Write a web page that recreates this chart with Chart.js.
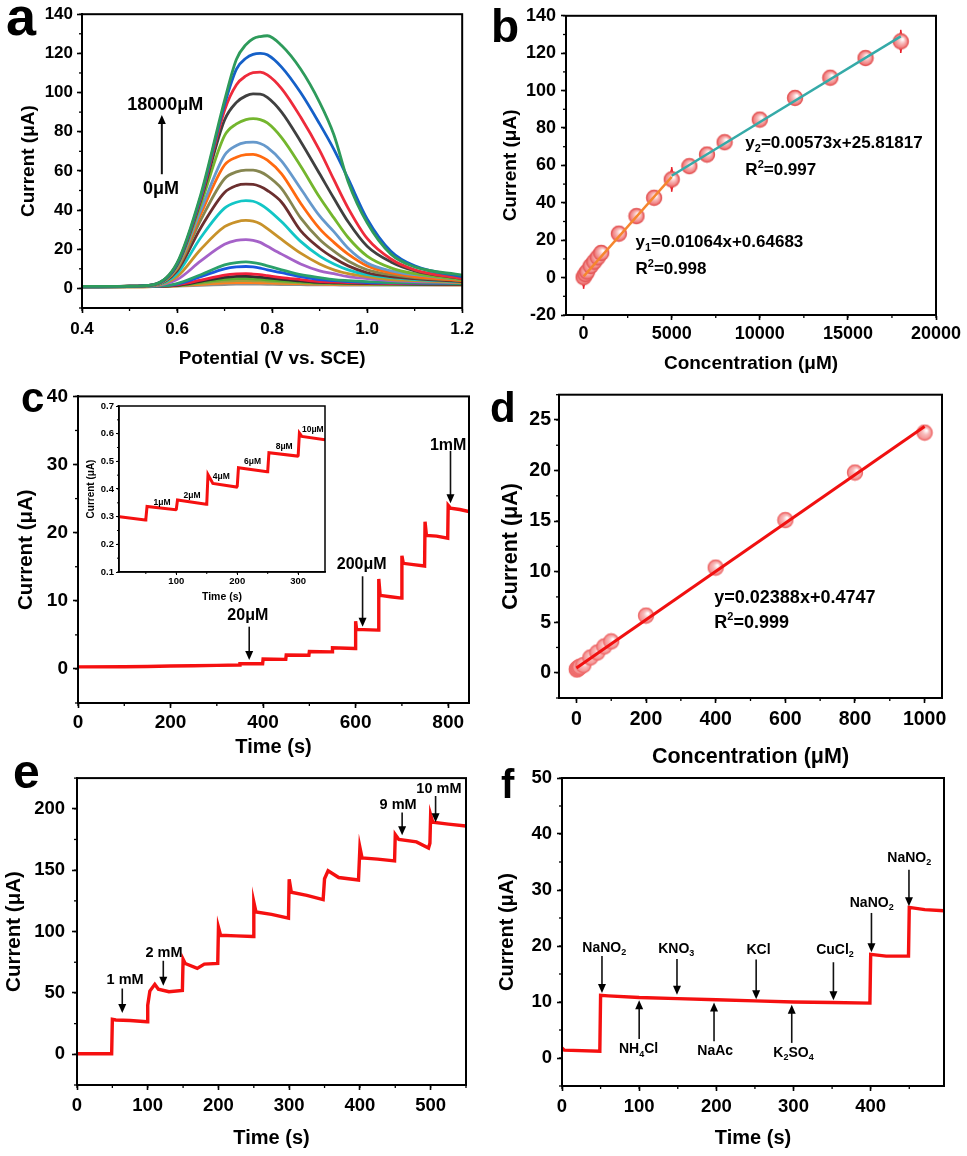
<!DOCTYPE html>
<html>
<head>
<meta charset="utf-8">
<script src="https://cdn.jsdelivr.net/npm/chart.js@4.4.1/dist/chart.umd.min.js"></script>
<style>
  body { margin: 0; background: #fff; width: 967px; height: 1156px; position: relative; overflow: hidden; }
  canvas { position: absolute; }
</style>
</head>
<body>
<canvas id="pa" width="480" height="380" style="left:0;top:0"></canvas>
<canvas id="pb" width="487" height="380" style="left:480px;top:0"></canvas>
<canvas id="pc" width="480" height="390" style="left:0;top:380px"></canvas>
<canvas id="pinset" width="275" height="210" style="left:60px;top:395px"></canvas>
<canvas id="pd" width="487" height="395" style="left:480px;top:380px"></canvas>
<canvas id="pe" width="480" height="396" style="left:0;top:760px"></canvas>
<canvas id="pf" width="487" height="396" style="left:480px;top:760px"></canvas>
<script>
// ---- data ----
// a: DPV curves, potential grid (V) and currents (uA), 0 uM ... 18000 uM
var aPotential = [0.40, 0.50, 0.55, 0.60, 0.65, 0.70, 0.725, 0.745, 0.76, 0.775, 0.79, 0.82, 0.86, 0.90, 0.93, 0.96, 1.00, 1.05, 1.10, 1.20];
var aCurves = [
  [1.0, 1.1, 1.9, 13, 48, 96, 117, 124.5, 127.5, 128.6, 129, 124, 112, 95, 78.5, 54.5, 33.5, 17.5, 11, 6.8],
  [1.0, 1.1, 1.9, 12.5, 47, 94, 112, 117.5, 119.5, 120, 119.3, 113, 100, 84, 71, 56, 35.5, 19, 11.5, 6],
  [1.0, 1.1, 1.9, 12.5, 46, 91, 104, 108.5, 110.2, 110.4, 109, 102, 87.5, 70.5, 55.5, 41, 25.5, 15, 9.5, 5],
  [1.0, 1.1, 1.8, 12, 45, 86, 95, 98.3, 99.3, 99.2, 97.5, 90, 75, 58.5, 46, 34, 21.5, 13.5, 9, 5],
  [1.0, 1.1, 1.8, 11.5, 43, 78, 84, 86.2, 86.7, 86.2, 84.5, 77, 62.5, 46.5, 36, 26, 16.5, 10.5, 7.5, 4.5],
  [1.0, 1.1, 1.7, 11, 40, 68, 73, 74.5, 74.7, 74, 72, 65, 51, 37, 29, 20.5, 13, 9, 7, 4.5],
  [1.0, 1.1, 1.7, 10.5, 38, 63, 67, 68.3, 68.4, 67.5, 65.5, 58.5, 43.5, 30.5, 23.5, 17.5, 11.5, 8, 6, 4],
  [1.0, 1.0, 1.6, 10, 35, 56, 59.5, 60.4, 60.4, 59.5, 57.5, 51, 36, 25, 19, 14, 9.5, 7, 5.5, 4],
  [1.0, 1.0, 1.6, 9, 31, 49, 52.5, 53.2, 53.1, 52, 50, 44, 29.5, 20.5, 15.5, 11.5, 8, 6, 5, 3.5],
  [0.9, 1.0, 1.5, 7.5, 26, 41, 44, 44.8, 44.5, 43, 40.5, 34, 24, 16.5, 12.5, 9.5, 7, 5.5, 4.5, 3.5],
  [0.9, 1.0, 1.4, 6, 20, 31.5, 34, 34.7, 34.3, 33, 30.5, 25, 18, 12.5, 9.5, 7.5, 6, 4.5, 4, 3],
  [0.9, 1.0, 1.3, 4.5, 14, 22.5, 24.5, 24.9, 24.5, 23.5, 21.5, 17.5, 12.5, 9, 7.5, 6, 5, 4, 3.5, 3],
  [0.8, 0.9, 1.1, 2.5, 7, 12, 13.2, 13.5, 13.2, 12.5, 11.5, 9.5, 7, 5.5, 4.5, 4, 3.5, 3, 3, 2.5],
  [0.8, 0.9, 1.1, 2.2, 6, 10, 11, 11.2, 11, 10.4, 9.5, 8, 6, 4.5, 4, 3.5, 3, 2.8, 2.7, 2.5],
  [0.8, 0.9, 1.0, 1.8, 4.2, 6.8, 7.4, 7.5, 7.3, 7, 6.5, 5.5, 4.5, 3.5, 3.2, 3, 2.7, 2.5, 2.4, 2.3],
  [0.8, 0.9, 1.0, 1.6, 3.6, 5.6, 6.1, 6.2, 6, 5.8, 5.4, 4.6, 3.8, 3.1, 2.9, 2.7, 2.5, 2.3, 2.2, 2.1],
  [0.8, 0.9, 1.0, 1.5, 3.1, 4.6, 5, 5, 4.9, 4.7, 4.4, 3.9, 3.3, 2.8, 2.6, 2.5, 2.3, 2.2, 2.1, 2.0],
  [0.8, 0.8, 0.9, 1.4, 2.6, 3.7, 4, 4, 3.9, 3.8, 3.6, 3.2, 2.8, 2.5, 2.4, 2.3, 2.2, 2.1, 2.0, 1.9],
  [0.8, 0.8, 0.9, 1.3, 2.1, 2.8, 3, 3, 2.95, 2.9, 2.8, 2.6, 2.4, 2.2, 2.1, 2.1, 2.0, 1.9, 1.9, 1.8],
  [0.8, 0.8, 0.9, 1.2, 1.6, 2.0, 2.2, 2.2, 2.2, 2.15, 2.1, 2.0, 1.9, 1.8, 1.8, 1.7, 1.7, 1.7, 1.7, 1.7]
];
var aColors = ['#2e9b5b', '#1560c8', '#ee2b3b', '#404040', '#74b62e', '#6699cc', '#ff6a10', '#868650', '#6b2f2f', '#12c6c6',
               '#c8922a', '#a562c8', '#2aa06a', '#1a56e0', '#f0203a', '#303030', '#58b030', '#a0a040', '#ff8020', '#909090'];
var aTicksX = [0.4, 0.6, 0.8, 1.0, 1.2];
var aTicksY = [0, 20, 40, 60, 80, 100, 120, 140];

// b: calibration, peak current vs concentration
var bConc = [0, 100, 200, 400, 600, 800, 1000, 2000, 3000, 4000, 5000, 6000, 7000, 8000, 10000, 12000, 14000, 16000, 18000];
var bCurrent = [0.2, 1.8, 3.2, 6.2, 8.5, 10.8, 13.2, 23.5, 32.9, 42.7, 52.5, 59.6, 65.8, 72.4, 84.5, 96.1, 106.9, 117.4, 126.3];
var bError = [6.2, 0.8, 0.8, 0.8, 0.8, 0.8, 0.8, 0.8, 0.8, 0.8, 6.6, 0.8, 0.8, 0.8, 0.8, 0.8, 0.8, 0.8, 6.2];
var bFit1X = [0, 5000], bFit1Y = [0.65, 53.85];
var bFit2X = [5000, 18000], bFit2Y = [54.5, 129];
var bTicksX = [0, 5000, 10000, 15000, 20000];
var bTicksY = [-20, 0, 20, 40, 60, 80, 100, 120, 140];

// c: amperometric i-t, and the inset
var cTime = [0, 100, 150, 200, 250, 300, 349, 350, 399, 400, 449, 450, 499, 500, 549, 550, 599, 600, 602, 649, 650, 653, 675, 699, 700, 703, 725, 749, 750, 753, 775, 799, 800, 805, 825, 845];
var cCurrent = [0.30, 0.33, 0.35, 0.42, 0.46, 0.52, 0.58, 0.78, 0.75, 1.45, 1.40, 2.05, 2.0, 2.55, 2.5, 3.1, 3.0, 7.0, 5.8, 5.7, 13.2, 10.8, 10.6, 10.4, 16.6, 15.5, 15.3, 15.1, 21.6, 19.6, 19.5, 19.2, 24.0, 23.6, 23.4, 23.1];
var cTicksX = [0, 200, 400, 600, 800];
var cTicksY = [0, 10, 20, 30, 40];
var insetTime = [7, 49, 50, 52, 99, 100, 102, 149, 150, 152, 160, 199, 200, 202, 249, 250, 252, 299, 300, 302, 306, 344];
var insetCurrent = [0.300, 0.288, 0.290, 0.337, 0.325, 0.327, 0.360, 0.345, 0.347, 0.452, 0.420, 0.407, 0.410, 0.477, 0.462, 0.464, 0.531, 0.519, 0.521, 0.602, 0.590, 0.578];
var insetTicksX = [100, 200, 300];
var insetTicksY = [0.1, 0.2, 0.3, 0.4, 0.5, 0.6, 0.7];

// d: calibration of c
var dConc = [1, 2, 4, 6, 8, 10, 20, 40, 60, 80, 100, 200, 400, 600, 800, 1000];
var dCurrent = [0.33, 0.35, 0.42, 0.47, 0.52, 0.59, 0.75, 1.5, 2.0, 2.6, 3.1, 5.65, 10.4, 15.1, 19.8, 23.75];
var dFitX = [0, 1000], dFitY = [0.47, 24.35];
var dTicksX = [0, 200, 400, 600, 800, 1000];
var dTicksY = [0, 5, 10, 15, 20, 25];

// e: high concentration i-t
var eTime = [0, 49, 50, 55, 75, 99, 100, 103, 110, 115, 130, 149, 150, 153, 170, 180, 199, 200, 203, 225, 249, 250, 253, 275, 299, 300, 303, 325, 348, 350, 355, 370, 398, 400, 403, 425, 449, 450, 455, 480, 497, 499, 500, 503, 525, 550];
var eCurrent = [0.5, 0.5, 28.5, 28, 27.5, 26.5, 40, 51.5, 57, 53, 51, 52, 77.5, 74, 70, 73.5, 74, 103.5, 97, 96.5, 96, 124, 116, 114, 111, 142.5, 132, 129.5, 126, 143, 149.5, 144, 142, 168.5, 160, 159, 157.5, 179, 175, 173, 168, 172, 195, 189, 187.5, 186];
var eTicksX = [0, 100, 200, 300, 400, 500];
var eTicksY = [0, 50, 100, 150, 200];

// f: interference test
var fTime = [0, 3, 49, 50, 60, 100, 150, 200, 250, 300, 350, 399, 400, 420, 449, 450, 470, 495];
var fCurrent = [1.8, 1.4, 1.2, 11.2, 11.1, 10.8, 10.6, 10.4, 10.2, 10.0, 9.9, 9.8, 18.5, 18.2, 18.2, 26.9, 26.5, 26.3];
var fTicksX = [0, 100, 200, 300, 400];
var fTicksY = [0, 10, 20, 30, 40, 50];

// ---- helpers ----
var FONT = "'Liberation Sans', Arial, Helvetica, sans-serif";
function pts(xs, ys) { return xs.map(function (x, i) { return {x: x, y: ys[i]}; }); }

function richText(ctx, str, x, y, size, align) {
  var segs = [];
  for (var i = 0; i < str.length; i++) {
    var c = str[i];
    if ((c === '_' || c === '^') && i + 1 < str.length) { segs.push({t: str[i + 1], k: c}); i++; }
    else segs.push({t: c, k: ''});
  }
  var big = 'bold ' + size + 'px ' + FONT, small = 'bold ' + Math.round(size * 0.62) + 'px ' + FONT;
  var w = 0;
  segs.forEach(function (s) { ctx.font = s.k ? small : big; s.w = ctx.measureText(s.t).width; w += s.w; });
  var cx = align === 'left' ? x : x - w / 2;
  ctx.textAlign = 'left'; ctx.textBaseline = 'middle';
  segs.forEach(function (s) {
    ctx.font = s.k ? small : big;
    var dy = s.k === '_' ? size * 0.32 : (s.k === '^' ? -size * 0.33 : 0);
    ctx.fillText(s.t, cx, y + dy);
    cx += s.w;
  });
}

var framePlugin = {
  id: 'frame',
  afterDraw: function (chart, args, o) {
    var ctx = chart.ctx, a = chart.chartArea, x = chart.scales.x, y = chart.scales.y;
    ctx.save();
    ctx.strokeStyle = '#000';
    ctx.lineWidth = o.lw || 2;
    ctx.strokeRect(a.left, a.top, a.right - a.left, a.bottom - a.top);
    ctx.lineWidth = o.mw || 1.3;
    var ml = o.ml || 3, i, p;
    if (o.minorX) {
      for (i = Math.ceil(x.min / o.minorX); i * o.minorX <= x.max + 1e-9; i++) {
        p = x.getPixelForValue(i * o.minorX);
        ctx.beginPath(); ctx.moveTo(p, a.bottom); ctx.lineTo(p, a.bottom + ml); ctx.stroke();
      }
    }
    if (o.minorY) {
      for (i = Math.ceil(y.min / o.minorY); i * o.minorY <= y.max + 1e-9; i++) {
        p = y.getPixelForValue(i * o.minorY);
        ctx.beginPath(); ctx.moveTo(a.left, p); ctx.lineTo(a.left - ml, p); ctx.stroke();
      }
    }
    if (o.letter) {
      ctx.fillStyle = '#000';
      ctx.font = 'bold ' + o.letter.size + 'px ' + FONT;
      ctx.textAlign = 'left'; ctx.textBaseline = 'alphabetic';
      ctx.fillText(o.letter.t, o.letter.x, o.letter.y);
    }
    ctx.restore();
  }
};

var notesPlugin = {
  id: 'notes',
  afterDatasetsDraw: function (chart, args, o) {
    var ctx = chart.ctx, x = chart.scales.x, y = chart.scales.y;
    ctx.save();
    ctx.fillStyle = '#000'; ctx.strokeStyle = '#111';
    (o.items || []).forEach(function (n) {
      if (n.t === 'text') {
        richText(ctx, n.s, x.getPixelForValue(n.x), y.getPixelForValue(n.y), n.size, n.align);
      } else {
        var px = x.getPixelForValue(n.x), p1 = y.getPixelForValue(n.y1), p2 = y.getPixelForValue(n.y2);
        var dir = p2 > p1 ? 1 : -1, hl = n.head || 9, hw = n.hw || 4;
        ctx.lineWidth = n.lw || 1.6;
        ctx.beginPath(); ctx.moveTo(px, p1); ctx.lineTo(px, p2 - dir * hl * 0.6); ctx.stroke();
        ctx.beginPath(); ctx.moveTo(px, p2); ctx.lineTo(px - hw, p2 - dir * hl); ctx.lineTo(px + hw, p2 - dir * hl); ctx.closePath(); ctx.fill();
      }
    });
    ctx.restore();
  }
};

var errPlugin = {
  id: 'errbars',
  beforeDatasetsDraw: function (chart, args, o) {
    if (!o.xs) return;
    var ctx = chart.ctx, x = chart.scales.x, y = chart.scales.y;
    ctx.save();
    ctx.strokeStyle = '#e8202a'; ctx.fillStyle = '#e8202a'; ctx.lineWidth = 1.6;
    o.xs.forEach(function (v, i) {
      var px = x.getPixelForValue(v), top = y.getPixelForValue(o.ys[i] + o.es[i]), bot = y.getPixelForValue(o.ys[i] - o.es[i]);
      ctx.beginPath(); ctx.moveTo(px, top); ctx.lineTo(px, bot); ctx.stroke();
      ctx.beginPath(); ctx.moveTo(px, top); ctx.lineTo(px - 2.5, top + 7); ctx.lineTo(px + 2.5, top + 7); ctx.closePath(); ctx.fill();
      ctx.beginPath(); ctx.moveTo(px, bot); ctx.lineTo(px - 2.5, bot - 7); ctx.lineTo(px + 2.5, bot - 7); ctx.closePath(); ctx.fill();
    });
    ctx.restore();
  }
};

function sphere(r, fill, edge) {
  var c = document.createElement('canvas'), s = 2 * r + 3;
  c.width = s; c.height = s;
  var g = c.getContext('2d'), m = s / 2;
  var grd = g.createRadialGradient(m + r * 0.25, m - r * 0.3, r * 0.08, m, m, r);
  grd.addColorStop(0, '#ffffff');
  grd.addColorStop(0.4, '#f8bcbc');
  grd.addColorStop(1, fill);
  g.fillStyle = grd;
  g.beginPath(); g.arc(m, m, r, 0, Math.PI * 2); g.fill();
  g.strokeStyle = edge; g.lineWidth = 1.4; g.stroke();
  return c;
}

function axis(o) {
  return {
    type: 'linear', min: o.min, max: o.max, bounds: 'data',
    afterFit: function (s) { if (s.isHorizontal()) s.height = o.size; else s.width = o.size; },
    afterBuildTicks: function (s) { s.ticks = o.ticks.map(function (v) { return {value: v}; }); },
    ticks: {
      autoSkip: false, maxRotation: 0, color: '#000', padding: o.tpad,
      font: {family: FONT, size: o.tfont, weight: 'bold'},
      callback: o.fmt || function (v) { return String(v); }
    },
    grid: {drawOnChartArea: false, drawTicks: true, tickLength: o.tlen || 5, tickWidth: o.tw || 1.6, tickColor: '#000'},
    border: {display: true, color: '#000', width: o.bw || 2},
    title: {display: true, text: o.title, color: '#000', font: {family: FONT, size: o.font, weight: 'bold'}, padding: o.titlePad}
  };
}

function panel(id, cfg) {
  return new Chart(document.getElementById(id), {
    type: 'scatter',
    data: {datasets: cfg.datasets},
    options: {
      responsive: false, animation: false, events: [],
      layout: {padding: {left: 0, top: cfg.top, right: cfg.right, bottom: 0}},
      plugins: {
        legend: {display: false}, tooltip: {enabled: false},
        frame: cfg.frame, notes: {items: cfg.notes || []}, errbars: cfg.err || {}
      },
      scales: {x: axis(cfg.x), y: axis(cfg.y)}
    },
    plugins: [framePlugin, notesPlugin, errPlugin]
  });
}

function line(xs, ys, color, width, extra) {
  return Object.assign({data: pts(xs, ys), showLine: true, borderColor: color, borderWidth: width,
    pointRadius: 0, fill: false, tension: 0}, extra || {});
}

var curTitle = 'Current (\u03bcA)';

// ---- a ----
panel('pa', {
  top: 14, right: 16,
  datasets: aCurves.map(function (ys, i) {
    return line(aPotential, ys, aColors[i], 2.8, {cubicInterpolationMode: 'monotone'});
  }),
  x: {min: 0.4, max: 1.2, ticks: aTicksX, size: 72, tfont: 17, tpad: 6, font: 19, title: 'Potential (V vs. SCE)',
      titlePad: {top: 0, bottom: 10}, fmt: function (v) { return v.toFixed(1); }},
  y: {min: -10, max: 140, ticks: aTicksY, size: 82, tfont: 17, tpad: 4, font: 19, title: curTitle, titlePad: {top: 17, bottom: 0}},
  frame: {minorX: 0.1, minorY: 10, letter: {t: 'a', x: 6, y: 35, size: 54}},
  notes: [
    {t: 'text', x: 0.575, y: 93.8, s: '18000\u03bcM', size: 18},
    {t: 'arrow', x: 0.568, y1: 58.3, y2: 88.5, lw: 2},
    {t: 'text', x: 0.566, y: 50.7, s: '0\u03bcM', size: 18}
  ]
});

// ---- b ----
var bSphere = sphere(7.5, '#ee6b6b', '#e45858');
panel('pb', {
  top: 15, right: 31,
  datasets: [
    line(bFit1X, bFit1Y, '#f5862e', 2.4),
    line(bFit2X, bFit2Y, '#35aaa8', 2.4),
    {data: pts(bConc, bCurrent), pointStyle: bSphere, pointRadius: 8, showLine: false}
  ],
  x: {min: -1000, max: 20000, ticks: bTicksX, size: 65, tfont: 18, tpad: 3, font: 19, title: 'Concentration (\u03bcM)', titlePad: {top: 0, bottom: 5}},
  y: {min: -20, max: 140, ticks: bTicksY, size: 86, tfont: 18, tpad: 5, font: 19, title: curTitle, titlePad: {top: 19, bottom: 0}},
  frame: {minorX: 2500, minorY: 10, letter: {t: 'b', x: 11, y: 42, size: 46}},
  err: {xs: bConc, ys: bCurrent, es: bError},
  notes: [
    {t: 'text', x: 9180, y: 71.7, s: 'y_2=0.00573x+25.81817', size: 17, align: 'left'},
    {t: 'text', x: 9180, y: 57.3, s: 'R^2=0.997', size: 17, align: 'left'},
    {t: 'text', x: 2946, y: 18.9, s: 'y_1=0.01064x+0.64683', size: 17, align: 'left'},
    {t: 'text', x: 2946, y: 4.5, s: 'R^2=0.998', size: 17, align: 'left'}
  ]
});

// ---- c ----
panel('pc', {
  top: 9, right: 11,
  datasets: [line(cTime, cCurrent, '#f51010', 3.4)],
  x: {min: 0, max: 845, ticks: cTicksX, size: 67, tfont: 19, tpad: 3, font: 20, title: 'Time (s)', titlePad: {top: 0, bottom: 11}},
  y: {min: -5, max: 40, ticks: cTicksY, size: 78, tfont: 19, tpad: 5, font: 20.5, title: curTitle, titlePad: {top: 14, bottom: 0}},
  frame: {minorX: 100, minorY: 5, letter: {t: 'c', x: 21, y: 32, size: 42}},
  notes: [
    {t: 'text', x: 367, y: 7.9, s: '20\u03bcM', size: 16},
    {t: 'arrow', x: 370, y1: 6.2, y2: 1.3},
    {t: 'text', x: 613, y: 15.3, s: '200\u03bcM', size: 16},
    {t: 'arrow', x: 615, y1: 13.6, y2: 6.2},
    {t: 'text', x: 800, y: 32.8, s: '1mM', size: 16},
    {t: 'arrow', x: 805, y1: 32, y2: 24.3}
  ]
});

panel('pinset', {
  top: 11, right: 10,
  datasets: [line(insetTime, insetCurrent, '#f51010', 3)],
  x: {min: 6, max: 344, ticks: insetTicksX, size: 33, tfont: 9.5, tpad: 1, tlen: 3, tw: 1, bw: 1.5, font: 10.5, title: 'Time (s)', titlePad: {top: 0, bottom: 2}},
  y: {min: 0.1, max: 0.7, ticks: insetTicksY, size: 59, tfont: 9.5, tpad: 2, tlen: 3, tw: 1, bw: 1.5, font: 10, title: curTitle, titlePad: {top: 25, bottom: 0},
      fmt: function (v) { return v.toFixed(1); }},
  frame: {lw: 1.5, mw: 1, ml: 2, minorX: 50, minorY: 0.05},
  notes: [
    {t: 'text', x: 76.5, y: 0.35, s: '1\u03bcM', size: 8.5},
    {t: 'text', x: 125.7, y: 0.375, s: '2\u03bcM', size: 8.5},
    {t: 'text', x: 173.8, y: 0.444, s: '4\u03bcM', size: 8.5},
    {t: 'text', x: 225, y: 0.498, s: '6\u03bcM', size: 8.5},
    {t: 'text', x: 277, y: 0.552, s: '8\u03bcM', size: 8.5},
    {t: 'text', x: 324, y: 0.613, s: '10\u03bcM', size: 8.5}
  ]
});

// ---- d ----
var dSphere = sphere(7.5, '#f38a8a', '#ee6a6a');
panel('pd', {
  top: 12, right: 25,
  datasets: [
    line(dFitX, dFitY, '#f01010', 3),
    {data: pts(dConc, dCurrent), pointStyle: dSphere, pointRadius: 8, showLine: false}
  ],
  x: {min: -50, max: 1050, ticks: dTicksX, size: 77, tfont: 19.5, tpad: 5, font: 21.5, title: 'Concentration (\u03bcM)', titlePad: {top: 0, bottom: 5}},
  y: {min: -2.5, max: 27.5, ticks: dTicksY, size: 79, tfont: 19.5, tpad: 3, font: 21.5, title: curTitle, titlePad: {top: 18, bottom: 0}},
  frame: {minorX: 100, minorY: 2.5, letter: {t: 'd', x: 10, y: 42, size: 42}},
  notes: [
    {t: 'text', x: 396, y: 7.4, s: 'y=0.02388x+0.4747', size: 18, align: 'left'},
    {t: 'text', x: 396, y: 4.9, s: 'R^2=0.999', size: 18, align: 'left'}
  ]
});

// ---- e ----
panel('pe', {
  top: 12, right: 14,
  datasets: [line(eTime, eCurrent, '#f51010', 3.4)],
  x: {min: 0, max: 550, ticks: eTicksX, size: 71, tfont: 18.5, tpad: 5, font: 20, title: 'Time (s)', titlePad: {top: 0, bottom: 6}},
  y: {min: -25, max: 225, ticks: eTicksY, size: 77, tfont: 18.5, tpad: 7, font: 20.5, title: curTitle, titlePad: {top: 2, bottom: 0}},
  frame: {minorX: 50, minorY: 25, letter: {t: 'e', x: 13, y: 28, size: 48}},
  notes: [
    {t: 'text', x: 68, y: 60.3, s: '1 mM', size: 14.5},
    {t: 'arrow', x: 64, y1: 53.6, y2: 33.7},
    {t: 'text', x: 123, y: 82.9, s: '2 mM', size: 14.5},
    {t: 'arrow', x: 122, y1: 76.2, y2: 55.8},
    {t: 'text', x: 454, y: 203, s: '9 mM', size: 14.5},
    {t: 'arrow', x: 459.7, y1: 197, y2: 178.5},
    {t: 'text', x: 511.7, y: 216.2, s: '10 mM', size: 14.5},
    {t: 'arrow', x: 507, y1: 210.4, y2: 189}
  ]
});

// ---- f ----
panel('pf', {
  top: 18, right: 23,
  datasets: [line(fTime, fCurrent, '#f51010', 3.4)],
  x: {min: 0, max: 495, ticks: fTicksX, size: 70, tfont: 18.5, tpad: 5, font: 20, title: 'Time (s)', titlePad: {top: 0, bottom: 6}},
  y: {min: -5, max: 50, ticks: fTicksY, size: 82, tfont: 18.5, tpad: 5, font: 20, title: curTitle, titlePad: {top: 15, bottom: 0}},
  frame: {minorX: 50, minorY: 5, letter: {t: 'f', x: 21, y: 38, size: 40}},
  notes: [
    {t: 'text', x: 54.8, y: 19.6, s: 'NaNO_2', size: 14},
    {t: 'arrow', x: 51.8, y1: 18.2, y2: 11.6},
    {t: 'text', x: 148, y: 19.5, s: 'KNO_3', size: 14},
    {t: 'arrow', x: 149, y1: 17.7, y2: 11.3},
    {t: 'text', x: 254.6, y: 19.3, s: 'KCl', size: 14},
    {t: 'arrow', x: 251.6, y1: 17.6, y2: 10.5},
    {t: 'text', x: 353.8, y: 19.2, s: 'CuCl_2', size: 14},
    {t: 'arrow', x: 351.7, y1: 17.1, y2: 10.3},
    {t: 'text', x: 401.3, y: 27.7, s: 'NaNO_2', size: 14},
    {t: 'arrow', x: 401, y1: 25.9, y2: 18.9},
    {t: 'text', x: 450, y: 35.7, s: 'NaNO_2', size: 14},
    {t: 'arrow', x: 449.6, y1: 33.6, y2: 27.1},
    {t: 'text', x: 99.2, y: 1.5, s: 'NH_4Cl', size: 14},
    {t: 'arrow', x: 100, y1: 3.4, y2: 10.3},
    {t: 'text', x: 198.5, y: 1.2, s: 'NaAc', size: 14},
    {t: 'arrow', x: 197, y1: 3.0, y2: 9.9},
    {t: 'text', x: 300, y: 0.9, s: 'K_2SO_4', size: 14},
    {t: 'arrow', x: 297.7, y1: 2.7, y2: 9.5}
  ]
});
</script>
</body>
</html>
